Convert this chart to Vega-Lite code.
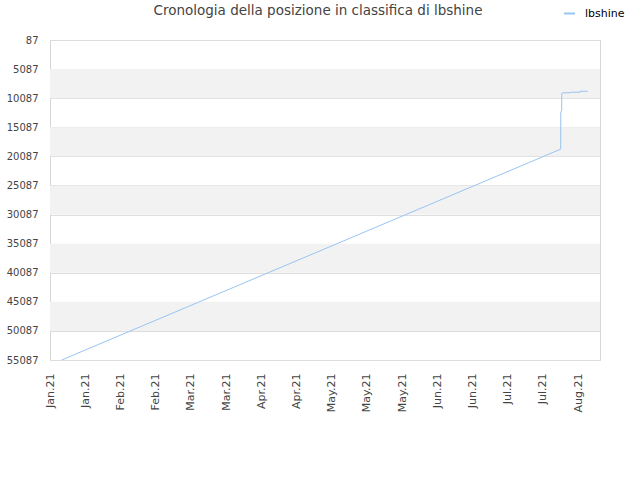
{
  "$schema": "https://vega.github.io/schema/vega-lite/v6.json",
  "autosize": "none",
  "width": 550,
  "height": 320,
  "padding": {"left": 50, "top": 40, "right": 40, "bottom": 120},
  "background": "white",
  "title": {
    "text": "Cronologia della posizione in classifica di lbshine",
    "font": "DejaVu Sans",
    "fontSize": 13.5,
    "fontWeight": "normal",
    "color": "#444444",
    "anchor": "middle",
    "baseline": "middle",
    "dx": -7,
    "offset": -17
  },
  "config": {
    "view": {"stroke": "#d6d6d6", "strokeWidth": 1},
    "axis": {
      "labelFont": "DejaVu Sans",
      "labelFontSize": 11,
      "labelColor": "#444444",
      "labelOverlap": false,
      "domain": false,
      "ticks": false,
      "title": null
    }
  },
  "datasets": {
    "bands": [
      {"pos": 5087, "pos_end": 10087},
      {"pos": 15087, "pos_end": 20087},
      {"pos": 25087, "pos_end": 30087},
      {"pos": 35087, "pos_end": 40087},
      {"pos": 45087, "pos_end": 50087}
    ],
    "ranking": [
      {"date": "2021-01-09T08:00:00Z", "pos": 55087},
      {"date": "2021-08-04T07:00:00Z", "pos": 18850},
      {"date": "2021-08-04T08:00:00Z", "pos": 12600},
      {"date": "2021-08-04T17:00:00Z", "pos": 12100},
      {"date": "2021-08-04T18:00:00Z", "pos": 9250},
      {"date": "2021-08-05T02:00:00Z", "pos": 9160},
      {"date": "2021-08-08T05:00:00Z", "pos": 9160},
      {"date": "2021-08-08T06:00:00Z", "pos": 9060},
      {"date": "2021-08-12T07:00:00Z", "pos": 9060},
      {"date": "2021-08-12T08:00:00Z", "pos": 8900},
      {"date": "2021-08-15T12:00:00Z", "pos": 8900}
    ]
  },
  "encoding": {
    "y": {
      "field": "pos",
      "type": "quantitative",
      "scale": {"domain": [87, 55087], "reverse": true, "zero": false, "nice": false},
      "axis": {
        "values": [87, 5087, 10087, 15087, 20087, 25087, 30087, 35087, 40087, 45087, 50087, 55087],
        "grid": true,
        "gridColor": "#dddddd",
        "labelFontSize": 10,
        "labelPadding": 12,
        "labelOverlap": false,
        "format": "d"
      }
    }
  },
  "layer": [
    {
      "data": {"name": "bands"},
      "mark": {"type": "rect", "color": "#f2f2f2"},
      "encoding": {
        "y2": {"field": "pos_end"}
      }
    },
    {
      "data": {"name": "ranking"},
      "mark": {"type": "line", "strokeWidth": 1, "clip": true},
      "encoding": {
        "x": {
          "field": "date",
          "type": "temporal",
          "scale": {"type": "utc", "domain": [1609761600000, 1629469440000]},
          "axis": {
            "values": [1609761600000, 1611023040000, 1612284480000, 1613545920000, 1614807360000, 1616068800000, 1617330240000, 1618591680000, 1619853120000, 1621114560000, 1622376000000, 1623637440000, 1624898880000, 1626160320000, 1627421760000, 1628683200000],
            "format": "%b.%y",
            "labelAngle": 270,
            "labelPadding": 13,
            "grid": false
          }
        },
        "color": {
          "datum": "lbshine",
          "scale": {"range": ["#98c4f1"]},
          "legend": {
            "title": null,
            "orient": "none",
            "legendX": 513,
            "legendY": -33,
            "symbolType": "stroke",
            "symbolSize": 120,
            "symbolStrokeWidth": 2,
            "labelFont": "DejaVu Sans",
            "labelFontSize": 11,
            "labelColor": "#000000",
            "labelOffset": 9
          }
        }
      }
    }
  ]
}
